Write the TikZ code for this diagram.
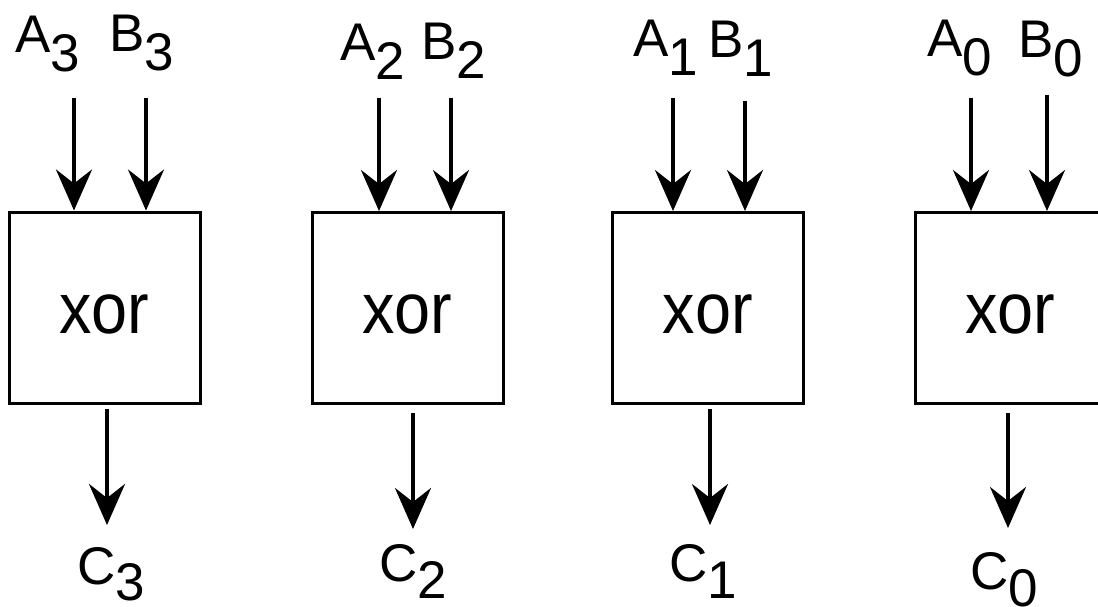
\documentclass[tikz,border=0pt]{standalone}
\usepackage{fontspec}
\setmainfont{Liberation Sans}
\usetikzlibrary{arrows.meta}
% signal name with a full-size, lowered index
\newcommand\sig[3][19pt]{#2\raisebox{-#1}{#3}}
\begin{document}
\begin{tikzpicture}[x=1pt,y=-1pt,
  gate/.style={draw,line width=3pt,rectangle,minimum width=191pt,minimum height=191pt,
    inner sep=0pt,font=\fontsize{72}{72}\selectfont,text height=51pt,text depth=0pt},
  sigtext/.style={anchor=base west,inner sep=0pt,font=\fontsize{53}{53}\selectfont},
  wire/.style={line width=4pt,-{Stealth[length=41pt,width=36pt,inset=14pt]}}]
\useasboundingbox (0,0) rectangle (1098,607);

% the four xor gates
\node[gate] (g3) at (104.5,307.5) {\scalebox{0.9}[1]{xor}};
\node[gate] (g2) at (407.5,308) {\scalebox{0.9}[1]{xor}};
\node[gate] (g1) at (708,308) {\scalebox{0.9}[1]{xor}};
\node[gate] (g0) at (1010.5,308) {\scalebox{0.9}[1]{xor}};

% input and output signal names
\node[sigtext] (la3) at (15,53) {\sig{A}{3}};
\node[sigtext] (lb3) at (109,52) {\sig{B}{3}};
\node[sigtext] (la2) at (340,61) {\sig{A}{2}};
\node[sigtext] (lb2) at (421,60) {\sig{B}{2}};
\node[sigtext] (la1) at (633,57) {\sig{A}{1}};
\node[sigtext] (lb1) at (708,58) {\sig{B}{1}};
\node[sigtext] (la0) at (927,57) {\sig{A}{0}};
\node[sigtext] (lb0) at (1018,58) {\sig{B}{0}};
\node[sigtext] (lc3) at (77,584) {\sig[16pt]{C}{3}};
\node[sigtext] (lc2) at (379,581) {\sig[17pt]{C}{2}};
\node[sigtext] (lc1) at (669,581) {\sig[17pt]{C}{1}};
\node[sigtext] (lc0) at (970,589) {\sig[17pt]{C}{0}};

% wire ends
\coordinate (ia3) at (74,98);   \coordinate (ib3) at (146,98);
\coordinate (ia2) at (379,98);  \coordinate (ib2) at (451,98);
\coordinate (ia1) at (673,98);  \coordinate (ib1) at (745,101);
\coordinate (ia0) at (971,98);  \coordinate (ib0) at (1047,95);
\coordinate (oc3) at (107,525); \coordinate (oc2) at (413,529);
\coordinate (oc1) at (710,525); \coordinate (oc0) at (1008,528);

% inputs
\foreach \g/\a/\b in {g3/ia3/ib3, g2/ia2/ib2, g1/ia1/ib1, g0/ia0/ib0}{
  \draw[wire] (\a) -- (\a |- \g.north);
  \draw[wire] (\b) -- (\b |- \g.north);
}
% outputs
\draw[wire,shorten <=4pt] (oc3 |- g3.south) -- (oc3);
\draw[wire,shorten <=8pt] (oc2 |- g2.south) -- (oc2);
\draw[wire,shorten <=4pt] (oc1 |- g1.south) -- (oc1);
\draw[wire,shorten <=8pt] (oc0 |- g0.south) -- (oc0);
\end{tikzpicture}
\end{document}
